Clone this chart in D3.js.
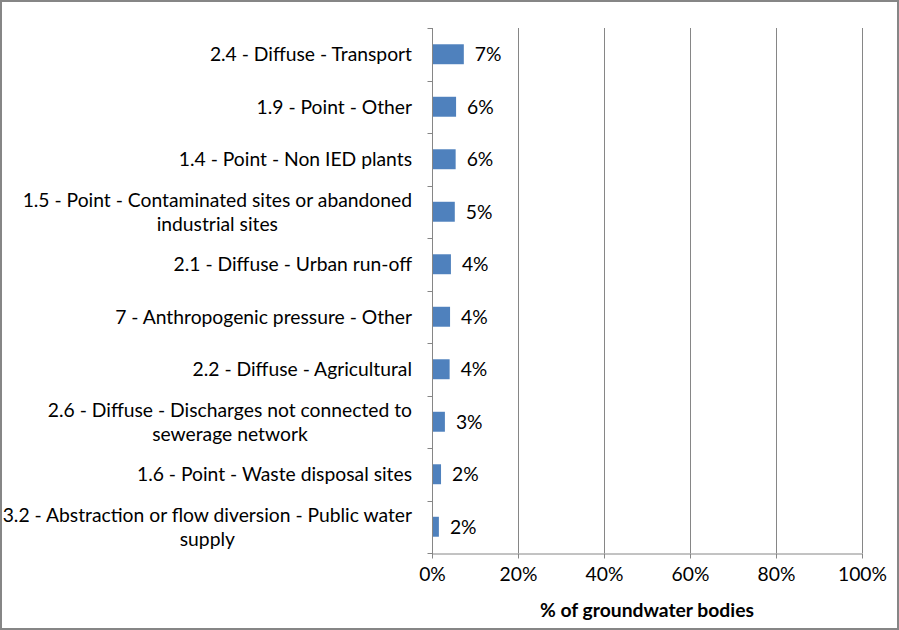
<!DOCTYPE html>
<html>
<head>
<meta charset="utf-8">
<script src="https://cdn.jsdelivr.net/npm/d3@7"></script>
<style>
  body { margin: 0; background: #fff; }
  svg { display: block; font-family: Lato, "Open Sans", sans-serif; }
</style>
</head>
<body>
<div id="chart"></div>
<script>
const categories = [
    "2.4 - Diffuse - Transport",
    "1.9 - Point - Other",
    "1.4 - Point - Non IED plants",
    "1.5 - Point - Contaminated sites or abandoned\nindustrial sites",
    "2.1 - Diffuse - Urban run-off",
    "7 - Anthropogenic pressure - Other",
    "2.2 - Diffuse - Agricultural",
    "2.6 - Diffuse - Discharges not connected to\nsewerage network",
    "1.6 - Point - Waste disposal sites",
    "3.2 - Abstraction or flow diversion - Public water\nsupply"
];
const values = [7.4, 5.6, 5.5, 5.3, 4.4, 4.2, 4.1, 3.0, 2.1, 1.6];
const xTicks = [0, 20, 40, 60, 80, 100];
const axisTitle = "% of groundwater bodies";

const width = 899, height = 630;
const margin = {top: 28, right: 37, bottom: 77, left: 432};
const fontSize = 19.3;

const svg = d3.select("#chart").append("svg")
    .attr("width", width)
    .attr("height", height);

svg.append("rect")
    .attr("x", 1).attr("y", 1)
    .attr("width", width - 2).attr("height", height - 2)
    .attr("fill", "#fff")
    .attr("stroke", "#868686")
    .attr("stroke-width", 2);

const x = d3.scaleLinear()
    .domain([0, 100])
    .range([margin.left, width - margin.right]);

const y = d3.scaleBand()
    .domain(categories)
    .range([margin.top, height - margin.bottom])
    .paddingInner(0.62)
    .paddingOuter(0.31);

const bandStep = y.step();
const bottomY = height - margin.bottom;

// gridlines
svg.append("g")
    .selectAll("line")
    .data(xTicks.slice(1))
    .join("line")
    .attr("x1", d => Math.round(x(d)) + 0.5)
    .attr("x2", d => Math.round(x(d)) + 0.5)
    .attr("y1", margin.top)
    .attr("y2", bottomY)
    .attr("stroke", "#868686")
    .attr("stroke-width", 1);

// bars
svg.append("g")
    .selectAll("rect")
    .data(values)
    .join("rect")
    .attr("x", x(0))
    .attr("y", (d, i) => y(categories[i]))
    .attr("width", d => x(d) - x(0))
    .attr("height", y.bandwidth())
    .attr("fill", "#4F81BD");

// x axis
const xAxis = svg.append("g")
    .attr("transform", `translate(0,${Math.round(bottomY) + 0.5})`)
    .call(d3.axisBottom(x).tickValues(xTicks).tickSize(5).tickSizeOuter(0).tickFormat(d => d + "%"));
xAxis.select(".domain").attr("stroke", "#868686");
xAxis.selectAll(".tick line").attr("stroke", "#868686");
xAxis.selectAll(".tick text")
    .attr("y", 20)
    .attr("dy", "0.4em")
    .style("font-family", "Lato, sans-serif")
    .style("font-size", fontSize + "px")
    .attr("fill", "#000");

// y axis line with boundary ticks
const yLineX = Math.round(x(0)) + 0.5;
svg.append("line")
    .attr("x1", yLineX).attr("x2", yLineX)
    .attr("y1", margin.top).attr("y2", bottomY + 5)
    .attr("stroke", "#868686");
svg.append("g")
    .selectAll("line")
    .data(d3.range(categories.length + 1))
    .join("line")
    .attr("x1", yLineX - 5).attr("x2", yLineX)
    .attr("y1", i => Math.round(margin.top + i * bandStep) + 0.5)
    .attr("y2", i => Math.round(margin.top + i * bandStep) + 0.5)
    .attr("stroke", "#868686");

// category labels
const lineH = 24;
const labels = svg.append("g")
    .style("font-size", fontSize + "px")
    .attr("fill", "#000");
categories.forEach((c, i) => {
    const lines = c.split("\n");
    const cy = y(c) + y.bandwidth() / 2;
    const t = labels.append("text").attr("text-anchor", "middle");
    lines.forEach((ln, j) => {
        t.append("tspan")
            .attr("y", cy + (j - (lines.length - 1) / 2) * lineH)
            .attr("dy", "0.35em")
            .text(ln);
    });
    let maxW = 0;
    t.selectAll("tspan").each(function() {
        maxW = Math.max(maxW, this.getComputedTextLength());
    });
    t.selectAll("tspan").attr("x", 412 - maxW / 2);
});

// value labels
svg.append("g")
    .selectAll("text")
    .data(values)
    .join("text")
    .attr("x", d => x(d) + 11)
    .attr("y", (d, i) => y(categories[i]) + y.bandwidth() / 2)
    .attr("dy", "0.35em")
    .style("font-size", fontSize + "px")
    .text(d => Math.round(d) + "%");

// axis title
svg.append("text")
    .attr("x", 647)
    .attr("y", 617)
    .attr("text-anchor", "middle")
    .style("font-size", fontSize + "px")
    .style("font-weight", "bold")
    .text(axisTitle);
</script>
</body>
</html>
